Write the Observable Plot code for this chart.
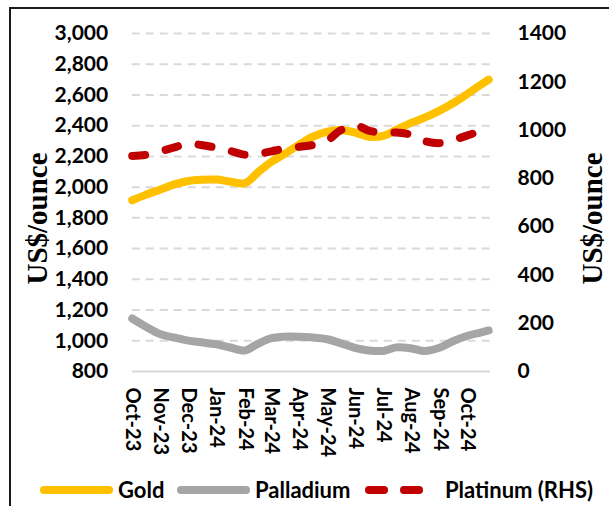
<!DOCTYPE html>
<html>
<head>
<meta charset="utf-8">
<script src="https://cdn.jsdelivr.net/npm/d3@7"></script>
<script src="https://cdn.jsdelivr.net/npm/@observablehq/plot@0.6"></script>
<style>
  body { margin: 0; background: #fff; }
  #wrap { position: relative; width: 609px; height: 506px; overflow: hidden; font-family: Lato, sans-serif; font-weight: 700; }
  #frame { position: absolute; left: 9px; top: 7px; width: 700px; height: 600px; border: 2px solid #1a1a1a; box-sizing: border-box; }
  #chart { position: absolute; left: 0; top: 0; }
  #legend { position: absolute; left: 0; top: 478px; width: 609px; height: 24px; }
  .sw { position: absolute; top: 8px; height: 8px; border-radius: 4px; }
  .lt { position: absolute; top: 0; line-height: 24px; font-size: 22px; color: #000; white-space: nowrap; }
</style>
</head>
<body>
<div id="wrap">
  <div id="frame"></div>
  <div id="chart"></div>
  <div id="legend"></div>
</div>
<script>
// ---- data ----
const dates = ["2023-10-01","2023-10-15","2023-11-01","2023-11-15","2023-12-01","2023-12-15",
  "2024-01-01","2024-01-15","2024-02-01","2024-02-15","2024-03-01","2024-03-15",
  "2024-04-01","2024-04-15","2024-05-01","2024-05-15","2024-06-01","2024-06-15",
  "2024-07-01","2024-07-15","2024-08-01","2024-08-15","2024-09-01","2024-09-15",
  "2024-10-01","2024-10-15","2024-10-24"];
const gold = [1915,1948,1985,2016,2040,2048,2049,2037,2026,2095,2165,2215,2280,2328,2362,2372,2354,2328,2333,2372,2420,2452,2500,2546,2608,2665,2700];
const palladium = [1145,1095,1042,1022,1001,990,977,958,937,980,1017,1027,1026,1022,1010,985,952,937,934,957,950,933,956,997,1033,1053,1067];
const platinum = [893,897,912,927,944,938,927,915,898,901,912,923,931,938,957,998,1019,998,989,990,980,955,946,958,978,995,1002];
const monthLabels = ["Oct-23","Nov-23","Dec-23","Jan-24","Feb-24","Mar-24","Apr-24","May-24","Jun-24","Jul-24","Aug-24","Sep-24","Oct-24"];
const leftTicks = [800,1000,1200,1400,1600,1800,2000,2200,2400,2600,2800,3000];
const rightTicks = [0,200,400,600,800,1000,1200,1400];
const seriesNames = ["Gold","Palladium","Platinum (RHS)"];
const seriesColors = ["#ffc000","#a5a5a5","#c00000"];
const axisTitle = "US$/ounce";

// ---- build ----
const toLeft = v => 800 + v * 2200 / 1400;
const fromLeft = v => (v - 800) * 1400 / 2200;
const rows = dates.map((d, i) => ({date: new Date(d), gold: gold[i], pall: palladium[i], plat: toLeft(platinum[i])}));
const monthTicks = monthLabels.map(d3.utcParse("%b-%y"));

const chart = Plot.plot({
  width: 609,
  height: 470,
  marginLeft: 131.7,
  marginRight: 119,
  marginTop: 33,
  marginBottom: 99,
  x: {type: "utc", domain: [new Date("2023-10-01"), new Date("2024-10-26")], axis: null},
  y: {domain: [800, 3000], axis: null},
  style: {fontFamily: "Lato, sans-serif", fontWeight: 700, fontSize: "20px", color: "#000", background: "transparent", overflow: "visible"},
  marks: [
    Plot.ruleY(leftTicks.filter(t => t > 800), {y: d => d, stroke: "#d9d9d9", strokeWidth: 2, strokeDasharray: "8,6"}),
    Plot.ruleY([800], {y: d => d, stroke: "#d9d9d9", strokeWidth: 2}),
    Plot.axisY({anchor: "left", ticks: leftTicks, tickFormat: d3.format(","), tickSize: 0, tickPadding: 24, label: null, fontSize: 21}),
    Plot.axisY({anchor: "right", ticks: rightTicks.map(toLeft), tickFormat: v => String(Math.round(fromLeft(v))), tickSize: 0, tickPadding: 27, label: null, fontSize: 21}),
    Plot.text(monthTicks, {x: d => d, y: 800, text: (d, i) => monthLabels[i], rotate: 90, textAnchor: "start", lineAnchor: "middle", dy: 16, fontSize: 20}),
    Plot.line(rows, {x: "date", y: "pall", curve: "catmull-rom", stroke: seriesColors[1], strokeWidth: 8, strokeLinecap: "round", strokeLinejoin: "round"}),
    Plot.line(rows, {x: "date", y: "gold", curve: "catmull-rom", stroke: seriesColors[0], strokeWidth: 8, strokeLinecap: "round", strokeLinejoin: "round"}),
    Plot.line(rows, {x: "date", y: "plat", curve: "catmull-rom", stroke: seriesColors[2], strokeWidth: 8, strokeLinecap: "round", strokeDasharray: "13,21"}),
    Plot.text([axisTitle], {frameAnchor: "left", textAnchor: "middle", lineAnchor: "middle", text: d => d, rotate: -90, dx: -94, dy: 16, fontFamily: "Liberation Serif", fontSize: 29, fontWeight: 700}),
    Plot.text([axisTitle], {frameAnchor: "right", textAnchor: "middle", lineAnchor: "middle", text: d => d, rotate: -90, dx: 102, dy: 16, fontFamily: "Liberation Serif", fontSize: 29, fontWeight: 700})
  ]
});
document.getElementById("chart").appendChild(chart);

// ---- legend ----
const legend = document.getElementById("legend");
function sw(left, width, color) {
  const s = document.createElement("div");
  s.className = "sw";
  s.style.left = left + "px";
  s.style.width = width + "px";
  s.style.background = color;
  legend.appendChild(s);
}
function lt(left, text) {
  const t = document.createElement("div");
  t.className = "lt";
  t.style.left = left + "px";
  t.textContent = text;
  legend.appendChild(t);
}
sw(40, 73, seriesColors[0]); lt(118, seriesNames[0]);
sw(177, 73, seriesColors[1]); lt(255, seriesNames[1]);
sw(365, 23, seriesColors[2]); sw(400, 23, seriesColors[2]); lt(445, seriesNames[2]);
</script>
</body>
</html>
